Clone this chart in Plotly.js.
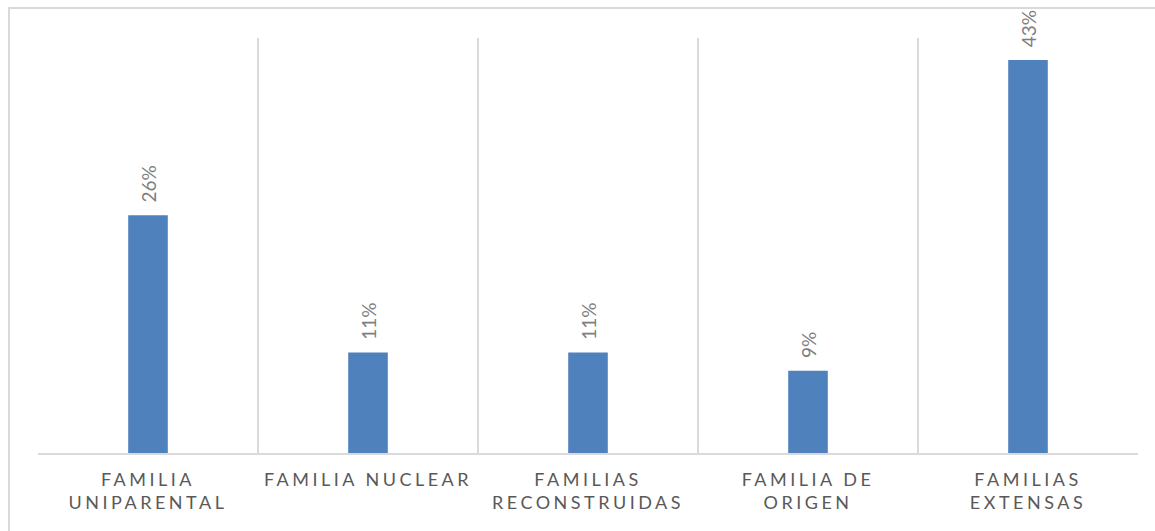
<!DOCTYPE html>
<html>
<head>
<meta charset="utf-8">
<script src="https://cdn.plot.ly/plotly-3.0.1.min.js"></script>
<style>
  html, body { margin: 0; padding: 0; background: #ffffff; overflow: hidden; }
  #wrap { position: relative; width: 1155px; height: 531px; }
  #chart { position: absolute; left: 0; top: 0; width: 1155px; height: 531px; }
  #frame { position: absolute; left: 8px; top: 7px; width: 1200px; height: 600px;
           border: 2px solid #d9d9d9; pointer-events: none; box-sizing: border-box; }
  .xtick text { letter-spacing: 3.5px; }
</style>
</head>
<body>
<div id="wrap">
  <div id="chart"></div>
  <div id="frame"></div>
</div>
<script>
// Data
const categories = ["Familia uniparental", "Familia nuclear", "Familias reconstruidas", "Familia de origen", "Familias extensas"];
const tickLabels = ["FAMILIA<br>UNIPARENTAL", "FAMILIA NUCLEAR", "FAMILIAS<br>RECONSTRUIDAS", "FAMILIA DE<br>ORIGEN", "FAMILIAS<br>EXTENSAS"];
const percentages = [26, 11, 11, 9, 43];

const trace = {
  type: "bar",
  x: categories,
  y: percentages,
  marker: { color: "#4f81bd" },
  texttemplate: "\u00a0\u00a0%{y}%",
  textposition: "outside",
  textangle: -90,
  constraintext: "none",
  cliponaxis: false,
  textfont: { family: "Lato, 'Open Sans', sans-serif", size: 19, color: "#7f7f7f" },
  hoverinfo: "skip"
};

const layout = {
  width: 1155,
  height: 531,
  margin: { l: 38, r: 17, t: 38, b: 78 },
  paper_bgcolor: "rgba(0,0,0,0)",
  plot_bgcolor: "rgba(0,0,0,0)",
  bargap: 0.82,
  showlegend: false,
  xaxis: {
    type: "category",
    range: [-0.5, 4.5],
    tickmode: "array",
    tickvals: categories,
    ticktext: tickLabels,
    tickson: "boundaries",
    ticks: "",
    ticklabelstandoff: 9,
    showgrid: true,
    gridcolor: "#d9d9d9",
    gridwidth: 2,
    showline: true,
    linecolor: "#d9d9d9",
    linewidth: 2,
    tickangle: 0,
    tickfont: { family: "Lato, 'Open Sans', sans-serif", size: 18, color: "#595959" },
    fixedrange: true
  },
  yaxis: {
    range: [0, 45.4],
    showgrid: false,
    zeroline: false,
    showticklabels: false,
    ticks: "",
    fixedrange: true
  }
};

Plotly.newPlot("chart", [trace], layout, { displayModeBar: false, staticPlot: true });
</script>
</body>
</html>
